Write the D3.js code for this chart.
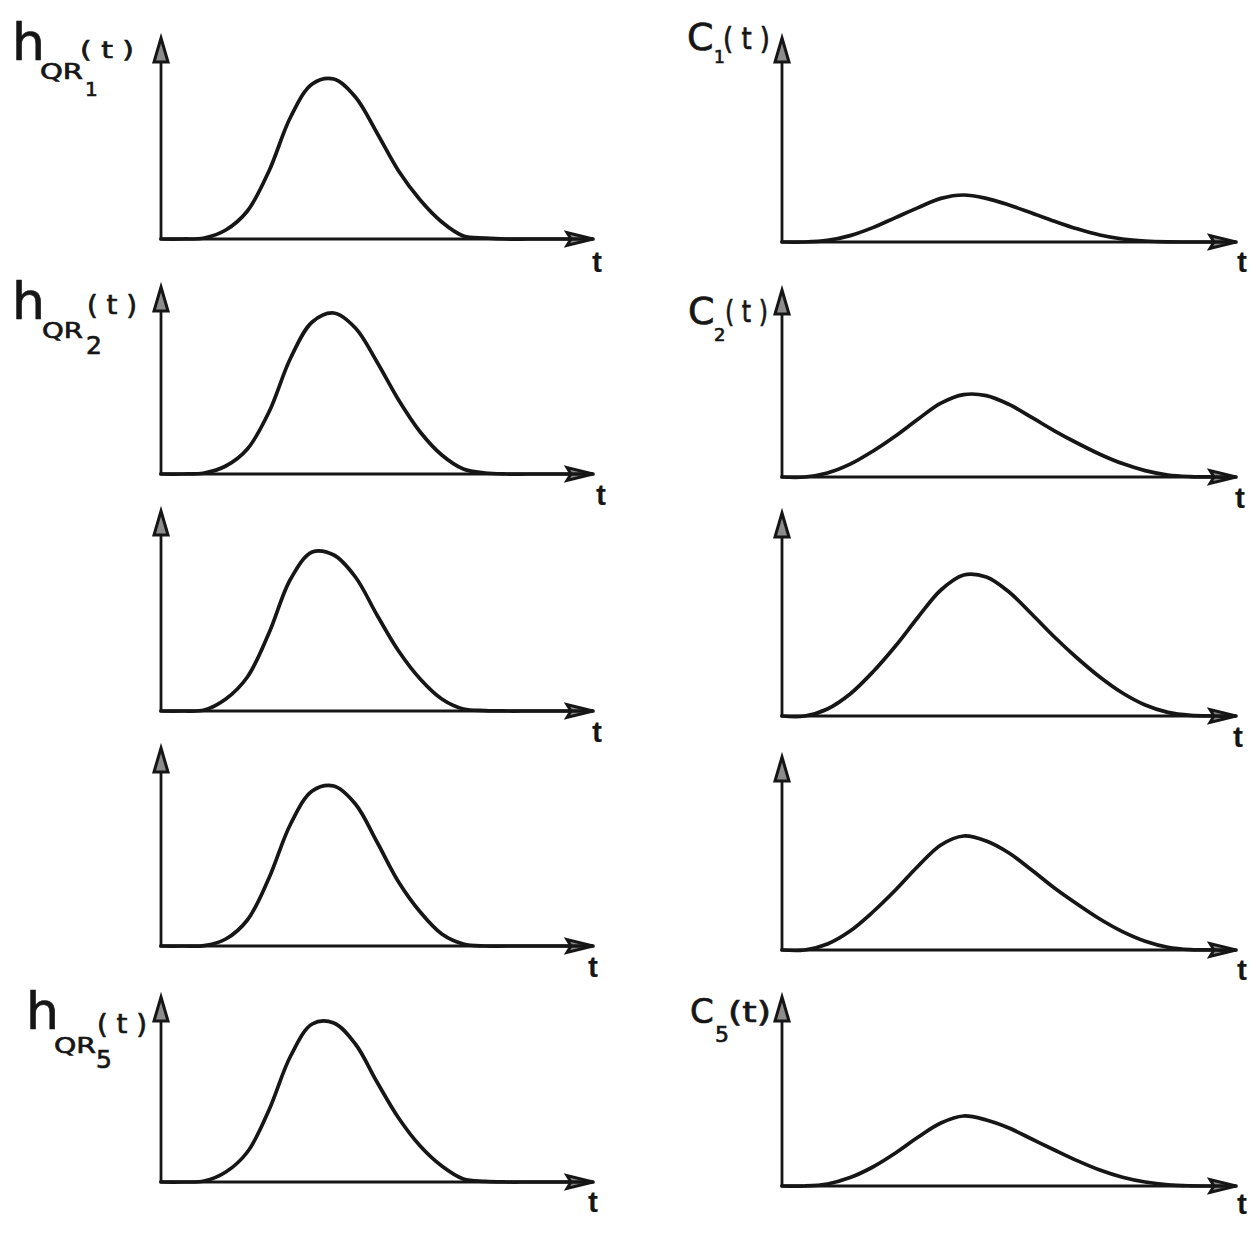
<!DOCTYPE html>
<html>
<head>
<meta charset="utf-8">
<script src="https://cdn.jsdelivr.net/npm/d3@7"></script>
<style>
  html, body { margin: 0; padding: 0; background: #ffffff; }
  svg { display: block; }
</style>
</head>
<body>
<script>
// Sample times shared by every response curve
const tGrid = [0, 0.5, 1, 1.5, 2, 2.5, 3, 3.5, 4, 4.5, 5, 5.5, 6, 6.5, 7, 7.5, 8, 8.5, 9, 9.5, 10];

// Impulse responses h_QR,i(t) (left column)
const hQR1 = [0, 0, 0.05, 0.45, 1.4, 3.4, 6.1, 7.75, 8.0, 7.1, 5.3, 3.4, 1.95, 0.85, 0.15, 0.05, 0, 0, 0, 0, 0];
const hQR2 = [0, 0, 0.05, 0.4, 1.25, 3.1, 5.8, 7.6, 8.05, 7.3, 5.6, 3.7, 2.1, 0.95, 0.25, 0.05, 0, 0, 0, 0, 0];
const hQR3 = [0, 0, 0.05, 0.6, 1.7, 3.9, 6.6, 7.95, 7.8, 6.7, 4.8, 3.0, 1.6, 0.6, 0.1, 0.02, 0, 0, 0, 0, 0];
const hQR4 = [0, 0, 0.02, 0.35, 1.3, 3.4, 6.1, 7.75, 8.0, 7.1, 5.2, 3.2, 1.7, 0.6, 0.1, 0, 0, 0, 0, 0, 0];
const hQR5 = [0, 0, 0.05, 0.5, 1.5, 3.6, 6.3, 7.9, 7.95, 6.9, 5.0, 3.2, 1.8, 0.8, 0.15, 0.03, 0, 0, 0, 0, 0];

// Concentration curves C_i(t) (right column)
const c1 = [0, 0, 0.08, 0.32, 0.72, 1.22, 1.72, 2.18, 2.35, 2.18, 1.85, 1.45, 1.04, 0.66, 0.35, 0.15, 0.05, 0.01, 0, 0, 0];
const c2 = [0, 0, 0.2, 0.64, 1.29, 2.05, 2.9, 3.69, 4.12, 4.07, 3.63, 2.98, 2.31, 1.7, 1.14, 0.67, 0.32, 0.1, 0.02, 0, 0];
const c3 = [0, 0, 0.35, 1.1, 2.2, 3.5, 4.95, 6.3, 7.05, 6.95, 6.2, 5.1, 3.95, 2.9, 1.95, 1.15, 0.55, 0.18, 0.03, 0, 0];
const c4 = [0, 0, 0.3, 0.95, 1.9, 3.0, 4.2, 5.25, 5.7, 5.45, 4.85, 4.0, 3.1, 2.3, 1.55, 0.92, 0.44, 0.14, 0.02, 0, 0];
const c5 = [0, 0, 0.1, 0.42, 0.95, 1.65, 2.45, 3.15, 3.5, 3.3, 2.9, 2.35, 1.8, 1.27, 0.8, 0.44, 0.2, 0.06, 0.01, 0, 0];

const leftSeries = [hQR1, hQR2, hQR3, hQR4, hQR5];
const rightSeries = [c1, c2, c3, c4, c5];

// ---- layout ----
const W = 1256, H = 1237;
const ink = "#161616";

const columns = [
  { x0: 161, x1: 593, base: [239, 474, 711, 946, 1182], tip: [38, 287, 511, 748, 997],
    tLabel: [[597, 272], [601, 505], [597, 742], [593, 977], [593, 1212]], series: leftSeries },
  { x0: 782, x1: 1236, base: [242, 477, 716, 950, 1186], tip: [38, 290, 513, 757, 997],
    tLabel: [[1242, 272], [1240, 508], [1238, 747], [1242, 980], [1242, 1214]], series: rightSeries }
];

const svg = d3.select("body").append("svg")
  .attr("width", W).attr("height", H)
  .attr("viewBox", `0 0 ${W} ${H}`);

svg.append("rect").attr("width", W).attr("height", H).attr("fill", "#ffffff");

const line = d3.line().curve(d3.curveCatmullRom.alpha(0.5));

columns.forEach(col => {
  const x = d3.scaleLinear().domain([0, 10]).range([col.x0, col.x1]);
  col.series.forEach((vals, i) => {
    const base = col.base[i];
    const y = d3.scaleLinear().domain([0, 10]).range([base, base - 200]);
    const g = svg.append("g");

    // vertical axis
    g.append("line")
      .attr("x1", x(0)).attr("x2", x(0))
      .attr("y1", y(0) + 1).attr("y2", col.tip[i] + 10)
      .attr("stroke", ink).attr("stroke-width", 2.8);
    // vertical arrowhead
    const tx = x(0), ty = col.tip[i];
    g.append("path")
      .attr("d", `M${tx},${ty} L${tx + 7},${ty + 24} L${tx - 7},${ty + 24} Z`)
      .attr("fill", "#8c8c8c").attr("stroke", ink).attr("stroke-width", 3)
      .attr("stroke-linejoin", "miter");

    // horizontal axis
    g.append("line")
      .attr("x1", x(0) - 1.4).attr("x2", x(10) - 20)
      .attr("y1", y(0)).attr("y2", y(0))
      .attr("stroke", ink).attr("stroke-width", 2.8);
    // horizontal arrowhead
    const hx = x(10), hy = y(0);
    g.append("path")
      .attr("d", `M${hx},${hy} L${hx - 26},${hy - 6.5} L${hx - 22},${hy} L${hx - 26},${hy + 6.5} Z`)
      .attr("fill", "#8c8c8c").attr("stroke", ink).attr("stroke-width", 3)
      .attr("stroke-linejoin", "miter");

    // response curve
    g.append("path")
      .attr("d", line(tGrid.map((t, k) => [x(t), y(vals[k])])))
      .attr("fill", "none").attr("stroke", ink).attr("stroke-width", 3.7)
      .attr("stroke-linecap", "round").attr("stroke-linejoin", "round");

    // time label
    g.append("text")
      .attr("x", col.tLabel[i][0]).attr("y", col.tLabel[i][1])
      .attr("text-anchor", "middle")
      .attr("font-family", "'Liberation Sans', Arial, sans-serif")
      .attr("font-weight", "bold").attr("font-size", 30)
      .attr("fill", ink).text("t");
  });
});

// ---- axis titles ----
const font = "'DejaVu Sans', 'Liberation Sans', sans-serif";
function txt(x, y, size, s, len) {
  const el = svg.append("text").attr("x", x).attr("y", y)
    .attr("font-family", font).attr("font-size", size)
    .attr("fill", ink).attr("stroke", ink).attr("stroke-width", 0.7)
    .text(s);
  if (len) el.attr("textLength", len).attr("lengthAdjust", "spacingAndGlyphs");
  return el;
}

// h_QR1(t)
txt(12, 60, 52, "h");
txt(40, 79, 21, "QR", 43);
txt(85, 96, 20, "1");
txt(80, 58, 23, "( t )", 54);
// h_QR2(t)
txt(12, 319, 52, "h");
txt(42, 338, 22, "QR", 41);
txt(86, 354, 25, "2");
txt(87, 314, 26, "( t )", 50);
// h_QR5(t)
txt(26, 1029, 52, "h");
txt(54, 1053, 22, "QR", 42);
txt(96, 1068, 25, "5");
txt(97, 1033, 26, "( t )", 50);

// C_1(t)
txt(687, 50, 38, "C");
txt(714, 63, 17, "1");
txt(723, 49, 30, "( t )", 47);
// C_2(t)
txt(688, 324, 38, "C");
txt(714, 341, 18, "2");
txt(725, 322, 30, "( t )", 43);
// C_5(t)
txt(690, 1023, 34, "C");
txt(715, 1042, 22, "5");
txt(728, 1022, 28, "(t)", 43);
</script>
</body>
</html>
